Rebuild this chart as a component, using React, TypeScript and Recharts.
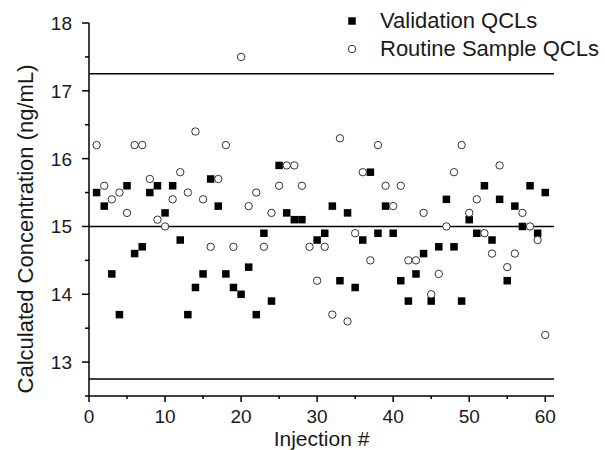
import React from 'react';
import { ScatterChart, Scatter, XAxis, YAxis, ReferenceLine, Legend } from 'recharts';

const injections = [
  1, 2, 3, 4, 5, 6, 7, 8, 9, 10, 11, 12, 13, 14, 15, 16, 17, 18, 19, 20,
  21, 22, 23, 24, 25, 26, 27, 28, 29, 30, 31, 32, 33, 34, 35, 36, 37, 38, 39, 40,
  41, 42, 43, 44, 45, 46, 47, 48, 49, 50, 51, 52, 53, 54, 55, 56, 57, 58, 59, 60,
];

// null = no visible validation point for that injection
const validationQCLs = [
  15.5, 15.3, 14.3, 13.7, 15.6, 14.6, 14.7, 15.5, 15.6, 15.2,
  15.6, 14.8, 13.7, 14.1, 14.3, 15.7, 15.3, 14.3, 14.1, 14.0,
  14.4, 13.7, 14.9, 13.9, 15.9, 15.2, 15.1, 15.1, null, 14.8,
  14.9, 15.3, 14.2, 15.2, 14.1, 14.8, 15.8, 14.9, 15.3, 14.9,
  14.2, 13.9, 14.3, 14.6, 13.9, 14.7, 15.4, 14.7, 13.9, 15.1,
  14.9, 15.6, 14.8, 15.4, 14.2, 15.3, 15.0, 15.6, 14.9, 15.5,
];

const routineQCLs = [
  16.2, 15.6, 15.4, 15.5, 15.2, 16.2, 16.2, 15.7, 15.1, 15.0,
  15.4, 15.8, 15.5, 16.4, 15.4, 14.7, 15.7, 16.2, 14.7, 17.5,
  15.3, 15.5, 14.7, 15.2, 15.6, 15.9, 15.9, 15.6, 14.7, 14.2,
  14.7, 13.7, 16.3, 13.6, 14.9, 15.8, 14.5, 16.2, 15.6, 15.3,
  15.6, 14.5, 14.5, 15.2, 14.0, 14.3, 15.0, 15.8, 16.2, 15.2,
  15.4, 14.9, 14.6, 15.9, 14.4, 14.6, 15.2, 15.0, 14.8, 13.4,
];

const limitLines = [17.25, 15, 12.75];
const xTicks = [0, 5, 10, 15, 20, 25, 30, 35, 40, 45, 50, 55, 60];
const yTicks = [12.5, 13, 13.5, 14, 14.5, 15, 15.5, 16, 16.5, 17, 17.5, 18];
const legendItems = ['Validation QCLs', 'Routine Sample QCLs'];

const validationData = injections
  .map((x, i) => ({ x, y: validationQCLs[i] }))
  .filter((d) => d.y !== null);
const routineData = injections.map((x, i) => ({ x, y: routineQCLs[i] }));

const FONT = '"Liberation Sans", Arial, sans-serif';
const TEXT = '#1a1a1a';

const SquareDot = (props: any) => {
  const { cx, cy } = props;
  return <rect x={cx - 3.75} y={cy - 3.75} width={7.5} height={7.5} fill="#000" />;
};

const CircleDot = (props: any) => {
  const { cx, cy } = props;
  return <circle cx={cx} cy={cy} r={3.7} fill="#fff" stroke="#333" strokeWidth={1} />;
};

const XTick = (props: any) => {
  const { x, y, payload } = props;
  const major = payload.value % 10 === 0;
  return (
    <g>
      <line x1={x} x2={x} y1={y} y2={y + (major ? 6 : 3)} stroke="#000" strokeWidth={1.5} />
      {major && (
        <text x={x} y={y + 27} textAnchor="middle" fontSize={19} fill={TEXT} fontFamily={FONT}>
          {payload.value}
        </text>
      )}
    </g>
  );
};

const YTick = (props: any) => {
  const { x, y, payload } = props;
  const major = Number.isInteger(payload.value);
  return (
    <g>
      <line x1={x} x2={x - (major ? 7 : 4)} y1={y} y2={y} stroke="#000" strokeWidth={1.5} />
      {major && (
        <text x={x - 17} y={y + 7} textAnchor="end" fontSize={19} fill={TEXT} fontFamily={FONT}>
          {payload.value}
        </text>
      )}
    </g>
  );
};

const YTitle = () => (
  <text
    x={25}
    y={229}
    transform="rotate(-90 25 229)"
    textAnchor="middle"
    dominantBaseline="central"
    fontSize={22}
    fill={TEXT}
    fontFamily={FONT}
  >
    Calculated Concentration (ng/mL)
  </text>
);

const renderLegend = () => (
  <div style={{ fontFamily: FONT, fontSize: 22, color: TEXT }}>
    {legendItems.map((name, i) => (
      <div key={name} style={{ display: 'flex', alignItems: 'center', height: 28 }}>
        <svg width={18} height={18} style={{ marginRight: 19 }}>
          {i === 0 ? (
            <rect x={5.25} y={5.25} width={7.5} height={7.5} fill="#000" />
          ) : (
            <circle cx={9} cy={9} r={3.7} fill="#fff" stroke="#333" strokeWidth={1} />
          )}
        </svg>
        <span>{name}</span>
      </div>
    ))}
  </div>
);

export default function App() {
  return (
    <div style={{ position: 'absolute', left: 0, top: 0, width: 605, height: 450, background: '#fff' }}>
      <ScatterChart width={605} height={450} margin={{ top: 23, right: 51, bottom: 0, left: 0 }}>
        <XAxis
          type="number"
          dataKey="x"
          domain={[0, 61.15]}
          ticks={xTicks}
          interval={0}
          height={54}
          tickSize={0}
          tickMargin={0}
          tickLine={false}
          tick={<XTick />}
          axisLine={{ stroke: '#000', strokeWidth: 1.5 }}
          allowDataOverflow
          label={{ value: 'Injection #', position: 'insideBottom', offset: 4, fontSize: 21, fill: TEXT, fontFamily: FONT }}
        />
        <YAxis
          type="number"
          dataKey="y"
          domain={[12.5, 18]}
          ticks={yTicks}
          interval={0}
          width={89}
          tickSize={0}
          tickMargin={0}
          tickLine={false}
          tick={<YTick />}
          axisLine={{ stroke: '#000', strokeWidth: 1.5 }}
          allowDataOverflow
          label={<YTitle />}
        />
        {limitLines.map((v) => (
          <ReferenceLine key={v} y={v} stroke="#000" strokeWidth={1.5} />
        ))}
        <Scatter name="Validation QCLs" data={validationData} shape={<SquareDot />} isAnimationActive={false} />
        <Scatter name="Routine Sample QCLs" data={routineData} shape={<CircleDot />} isAnimationActive={false} />
        <Legend
          layout="horizontal"
          verticalAlign="middle"
          align="center"
          content={renderLegend}
          wrapperStyle={{ top: 7, left: 343, width: 262 }}
        />
      </ScatterChart>
    </div>
  );
}
